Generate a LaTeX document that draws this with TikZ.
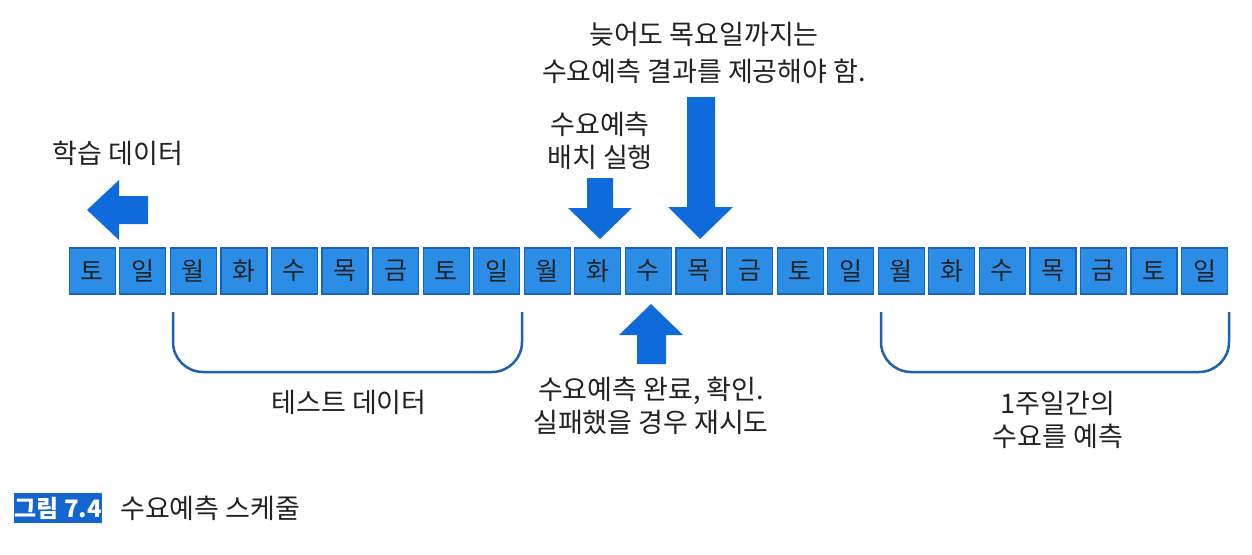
\documentclass[tikz,border=0pt]{standalone}
\usepackage{fontspec}
\setmainfont{Noto Sans CJK KR}
\definecolor{boxblue}{HTML}{2B8DE6}
\definecolor{boxedge}{HTML}{1A62C0}
\definecolor{arrowblue}{HTML}{0F6ADB}
\definecolor{brack}{HTML}{2060B0}
\definecolor{txt}{HTML}{222222}
\definecolor{capblue}{HTML}{1565D0}
\begin{document}
\begin{tikzpicture}[x=1pt,y=-1pt,
 day/.style={draw=boxedge, line width=1.2pt, fill=boxblue, minimum width=46pt, minimum height=46pt, inner sep=0pt, font=\fontsize{25}{26}\selectfont, text=txt},
 lbl/.style={font=\fontsize{27}{33}\selectfont, text=txt, align=center, inner sep=0pt},
 bigarrow/.style={fill=arrowblue, draw=none},
 bracket/.style={draw=brack, line width=2.5pt, rounded corners=30pt}]
\useasboundingbox[fill=white] (0,0) rectangle (1252,554);
\foreach \d [count=\i from 0] in {토,일,월,화,수,목,금,토,일,월,화,수,목,금,토,일,월,화,수,목,금,토,일}
  {\node[day] (d\i) at ({92.25+\i*50.56},271) {\d};}
% labels
\node[lbl] (train) at (118,153) {학습 데이터};
\node[lbl] (batch) at (600,141) {수요예측\\배치 실행};
\node[lbl] (dead) at (704,53) {늦어도 목요일까지는\\[4pt]수요예측 결과를 제공해야 함.};
\node[lbl] (test) at (349,402) {테스트 데이터};
\node[lbl] (done) at (651,406) {수요예측 완료, 확인.\\실패했을 경우 재시도};
\node[lbl] (week) at (1058,420) {1주일간의\\수요를 예측};
% arrows
\fill[bigarrow] (87,210) -- (119,180) -- (119,196) -- (148,196) -- (148,224) -- (119,224) -- (119,240) -- cycle;
\fill[bigarrow] (600,239) -- (568,208) -- (587,208) -- (587,178) -- (613,178) -- (613,208) -- (632,208) -- cycle;
\fill[bigarrow] (700,239) -- (668,207) -- (687,207) -- (687,97) -- (715,97) -- (715,207) -- (733,207) -- cycle;
\fill[bigarrow] (651,304) -- (619,335) -- (637,335) -- (637,364) -- (666,364) -- (666,335) -- (683,335) -- cycle;
% brackets
\draw[bracket] (173,312) -- (173,372) -- (522,372) -- (522,312);
\draw[bracket] (881,312) -- (881,372) -- (1229,372) -- (1229,312);
% caption
\node[fill=capblue, text=white, font=\fontsize{24}{26}\selectfont\bfseries, minimum width=88pt, minimum height=30pt, inner sep=0pt] (fig) at (58,508) {그림 7.4};
\node[lbl, anchor=west] (title) at (120,508) {수요예측 스케줄};
\end{tikzpicture}
\end{document}
